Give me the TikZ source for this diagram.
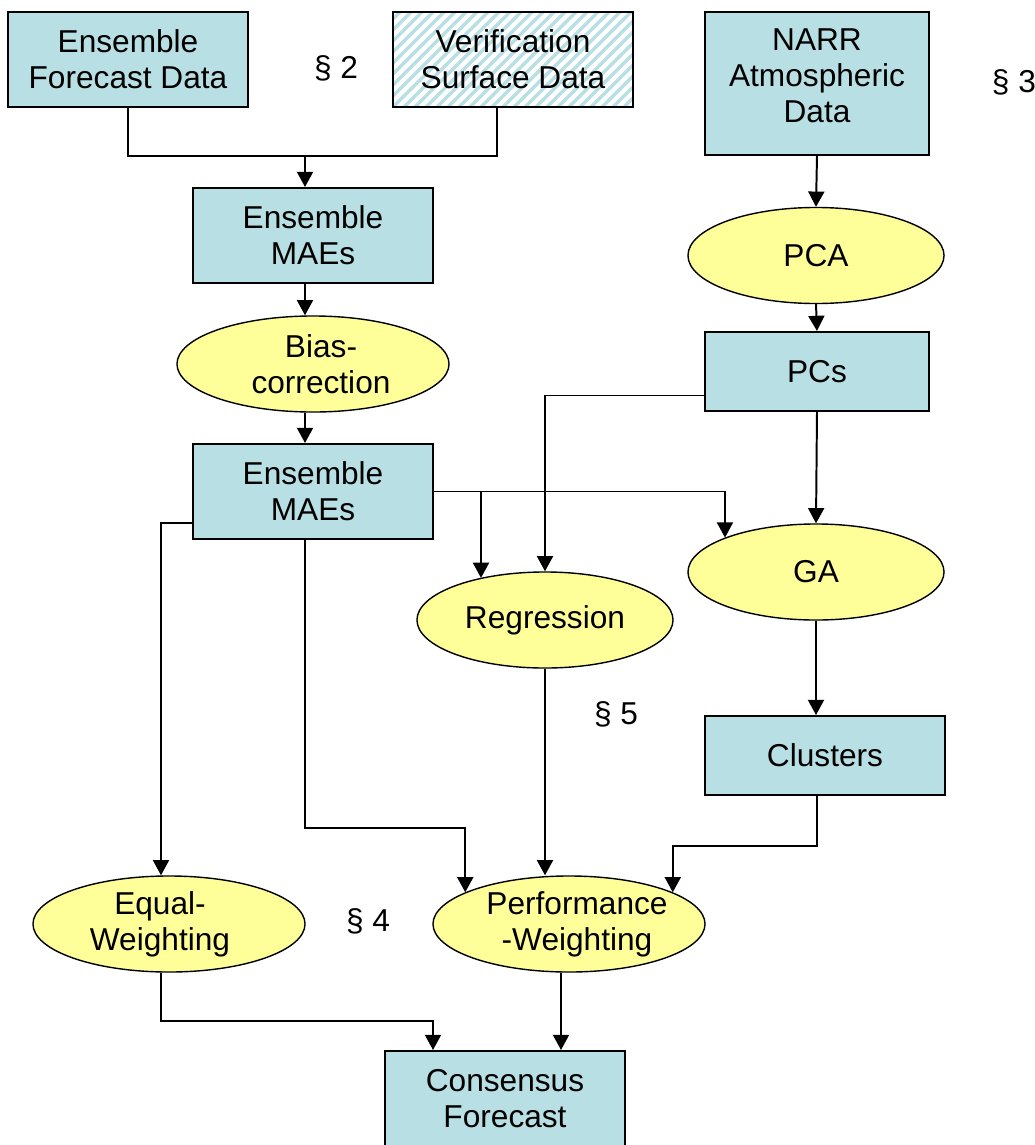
\documentclass[tikz,border=0pt]{standalone}
\usepackage{fontspec}
\setmainfont{Liberation Sans}
\usetikzlibrary{shapes.geometric,arrows.meta}
\definecolor{boxblue}{RGB}{184,223,227}
\definecolor{ovalyellow}{RGB}{255,255,153}
\newcommand{\bigtext}{\fontsize{22.5}{25.6}\selectfont}
\begin{document}
\begin{tikzpicture}[x=0.025cm, y=-0.025cm,
  box/.style={draw, fill=boxblue, line width=1.4pt, minimum width=6cm, minimum height=2.375cm, align=center, font=\bigtext},
  oval/.style={draw, ellipse, fill=ovalyellow, line width=1pt, inner sep=0pt, minimum width=6.8cm, minimum height=2.4cm, align=center, font=\bigtext},
  arr/.style={line width=1.4pt, -{Triangle[length=0.38cm,width=0.4cm]}},
  plain/.style={line width=1.4pt},
  sect/.style={font=\bigtext}]
\useasboundingbox (0,0) rectangle (1034,1145);
% inputs
\node[box] (efd) at (128,59.5) {Ensemble\\Forecast Data};
\node[box, fill=white, path picture={
  \foreach \i in {-10,...,23}
    \draw[boxblue, line width=2.4pt] ([xshift=\i*0.275cm]path picture bounding box.south west) -- ++(3cm,3cm);
}] (vsd) at (513,59.5) {Verification\\Surface Data};
\node[box, minimum width=5.6cm, minimum height=3.575cm, text depth=0.4cm] (narr) at (817,83.5) {NARR\\Atmospheric\\Data};
% left column
\node[box] (mae1) at (313,235.5) {Ensemble\\MAEs};
\node[oval] (bias) at (313,364) {\hspace*{0.4cm}Bias-\\\hspace*{0.4cm}correction};
\node[box] (mae2) at (313,491.5) {Ensemble\\MAEs};
% right column
\node[oval, minimum width=6.4cm] (pca) at (816,255.5) {PCA};
\node[box, minimum width=5.6cm, minimum height=1.975cm] (pcs) at (817,371.5) {PCs};
\node[oval, minimum width=6.4cm] (ga) at (816,572) {GA};
\node[oval, minimum width=6.4cm] (reg) at (545,620) {Regression};
\node[box, minimum height=1.975cm] (clus) at (825,755.5) {Clusters};
% weighting and output
\node[oval] (equal) at (169,924) {Equal-\hspace*{0.45cm}\\Weighting\hspace*{0.45cm}};
\node[oval, inner xsep=-0.2cm] (perf) at (569,924) {\hspace*{0.4cm}Performance\\\hspace*{0.4cm}-Weighting};
\node[box, minimum height=2.4cm] (cons) at (505,1099) {Consensus\\Forecast};
% section marks
\node[sect] (s2) at (336,68) {§ 2};
\node[sect, anchor=west] (s3) at (987,82) {§ 3};
\node[sect] (s4) at (368,921) {§ 4};
\node[sect] (s5) at (616,714) {§ 5};
% connectors
\coordinate (j1) at (305,155);
\draw[plain] (efd.south) -- ++(0,48) -| ([xshift=-0.4cm]vsd.south);
\draw[arr] (j1) -- (j1 |- mae1.north);
\draw[arr] ([xshift=-0.2cm]mae1.south) -- ([xshift=-0.2cm]mae1.south |- bias.north);
\draw[arr] ([xshift=-0.2cm]bias.south) -- ([xshift=-0.2cm]bias.south |- mae2.north);
\draw[arr] (narr.south) -- (pca.north);
\draw[arr] (pca.south) -- (pcs.north);
\draw[arr] (pcs.south) -- (ga.north);
\draw[arr] (ga.south) -- (ga.south |- clus.north);
\draw[arr] ([yshift=-0.6cm]pcs.west) -| (reg.north);
\draw[arr] (mae2.east) -| (ga.north west);
\coordinate (j2) at (481,491.5);
\draw[arr] (j2) -- (j2 |- reg.147);
\draw[arr] ([yshift=-0.79cm]mae2.west) -| ([xshift=-0.2cm]equal.north);
\draw[arr] ([xshift=-0.2cm]mae2.south) -- ++(0,288) -| (perf.163);
\draw[arr] (reg.south) -- (reg.south |- perf.north);
\draw[arr] ([xshift=-0.2cm]clus.south) -- ++(0,50) -| (perf.17);
\draw[arr] ([xshift=-0.2cm]equal.south) -- ++(0,48) -| ([xshift=-1.8cm]cons.north);
\draw[arr] ([xshift=-0.2cm]perf.south) -- ([xshift=-0.2cm]perf.south |- cons.north);
\end{tikzpicture}
\end{document}
